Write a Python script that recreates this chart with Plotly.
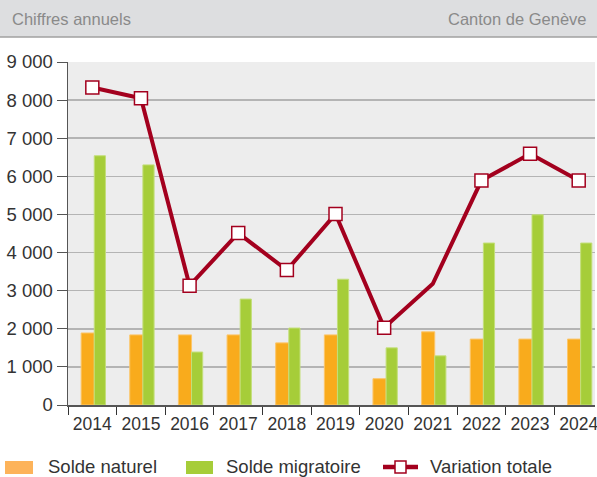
import plotly.graph_objects as go

years = ["2014", "2015", "2016", "2017", "2018", "2019", "2020", "2021", "2022", "2023", "2024"]
solde_naturel = [1890, 1840, 1840, 1840, 1630, 1840, 690, 1920, 1730, 1730, 1730]
solde_migratoire = [6540, 6300, 1390, 2780, 2020, 3300, 1500, 1290, 4250, 4990, 4250]
variation_totale = [8330, 8050, 3130, 4510, 3540, 5010, 2030, 3180, 5890, 6590, 5890]
marker_shown = [True, True, True, True, True, True, True, False, True, True, True]
y_ticks = [0, 1000, 2000, 3000, 4000, 5000, 6000, 7000, 8000, 9000]
y_ticklabels = ["0", "1 000", "2 000", "3 000", "4 000", "5 000", "6 000", "7 000", "8 000", "9 000"]

ORANGE = "#f9ab1c"
GREEN = "#a6cd39"
RED = "#a3001e"
FONT = "Liberation Sans, Arial, sans-serif"

W, H = 597, 477
ML, MR, MT, MB = 68, 2, 62, 72
PW, PH = W - ML - MR, H - MT - MB

def px(x):
    return (x - ML) / PW

def py(y):
    return (H - MB - y) / PH

fig = go.Figure()
fig.add_trace(go.Bar(x=years, y=solde_naturel, name="Solde naturel",
                     marker=dict(color=ORANGE, line=dict(color="#fcc66a", width=1)),
                     offset=-0.23, width=0.27))
fig.add_trace(go.Bar(x=years, y=solde_migratoire, name="Solde migratoire",
                     marker=dict(color=GREEN, line=dict(color="#c3df7a", width=1)),
                     offset=0.04, width=0.23))
fig.add_trace(go.Scatter(x=years, y=variation_totale, name="Variation totale",
                         mode="lines", line=dict(color=RED, width=4)))
fig.add_trace(go.Scatter(x=years,
                         y=[v if m else None for v, m in zip(variation_totale, marker_shown)],
                         name="Variation totale (points)", mode="markers",
                         marker=dict(symbol="square", size=13, opacity=1,
                                     color="#ffffff", line=dict(color=RED, width=1.5))))

shapes = []
annotations = []
# header band
shapes.append(dict(type="rect", xref="paper", yref="paper", x0=px(0), x1=px(W), y0=py(37), y1=py(0),
                   fillcolor="#dddee0", line=dict(width=0), layer="below"))
shapes.append(dict(type="line", xref="paper", yref="paper", x0=px(0), x1=px(W), y0=py(37), y1=py(37),
                   line=dict(color="#a0a0a0", width=1.5)))
annotations.append(dict(xref="paper", yref="paper", x=px(10), y=py(19), text="Chiffres annuels",
                        showarrow=False, xanchor="left", yanchor="middle",
                        font=dict(family=FONT, size=16.5, color="#8a8a8a")))
annotations.append(dict(xref="paper", yref="paper", x=px(589), y=py(19), text="Canton de Genève",
                        showarrow=False, xanchor="right", yanchor="middle",
                        font=dict(family=FONT, size=16.5, color="#8a8a8a")))

# custom legend
ly = 467
shapes.append(dict(type="rect", xref="paper", yref="paper", x0=px(5), x1=px(33), y0=py(474), y1=py(461),
                   fillcolor="#fdb35a", line=dict(width=0)))
annotations.append(dict(xref="paper", yref="paper", x=px(46), y=py(ly), text="Solde naturel",
                        showarrow=False, xanchor="left", yanchor="middle",
                        font=dict(family=FONT, size=18.5, color="#333333")))
shapes.append(dict(type="rect", xref="paper", yref="paper", x0=px(186), x1=px(213), y0=py(474), y1=py(461),
                   fillcolor=GREEN, line=dict(width=0)))
annotations.append(dict(xref="paper", yref="paper", x=px(224), y=py(ly), text="Solde migratoire",
                        showarrow=False, xanchor="left", yanchor="middle",
                        font=dict(family=FONT, size=18.5, color="#333333")))
shapes.append(dict(type="line", xref="paper", yref="paper", x0=px(383), x1=px(418), y0=py(ly), y1=py(ly),
                   line=dict(color=RED, width=4.5)))
shapes.append(dict(type="rect", xref="paper", yref="paper", x0=px(395), x1=px(406), y0=py(473), y1=py(461),
                   fillcolor="white", line=dict(color=RED, width=1.5)))
annotations.append(dict(xref="paper", yref="paper", x=px(428), y=py(ly), text="Variation totale",
                        showarrow=False, xanchor="left", yanchor="middle",
                        font=dict(family=FONT, size=18.5, color="#333333")))

fig.update_layout(
    width=W, height=H,
    margin=dict(l=ML, r=MR, t=MT, b=MB, autoexpand=False),
    paper_bgcolor="white", plot_bgcolor="#ededed",
    showlegend=False,
    barmode="overlay",
    hovermode=False,
    font=dict(family=FONT, size=18, color="#333333"),
    shapes=shapes, annotations=annotations,
    xaxis=dict(type="category", range=[-0.5, 10.335], tickson="boundaries",
               ticks="outside", ticklen=8, tickcolor="#333333", tickwidth=1,
               showline=True, linecolor="#555555", linewidth=1.5, automargin=False,
               tickangle=0, ticklabelstandoff=2,
               showgrid=False, tickfont=dict(size=17.5, color="#333333"), zeroline=False),
    yaxis=dict(range=[0, 9000], tickvals=y_ticks, ticktext=y_ticklabels,
               ticks="outside", ticklen=10, tickcolor="#555555", automargin=False,
               showline=True, linecolor="#555555", linewidth=1.5,
               showgrid=True, gridcolor="#b4b4b4", gridwidth=1.5,
               zeroline=False, tickfont=dict(size=18.5, color="#333333")),
)

fig.write_html("out.html", config={"displayModeBar": False, "staticPlot": True},
               post_script="document.body.style.margin='0';document.body.style.padding='0';document.body.style.overflow='hidden';")
